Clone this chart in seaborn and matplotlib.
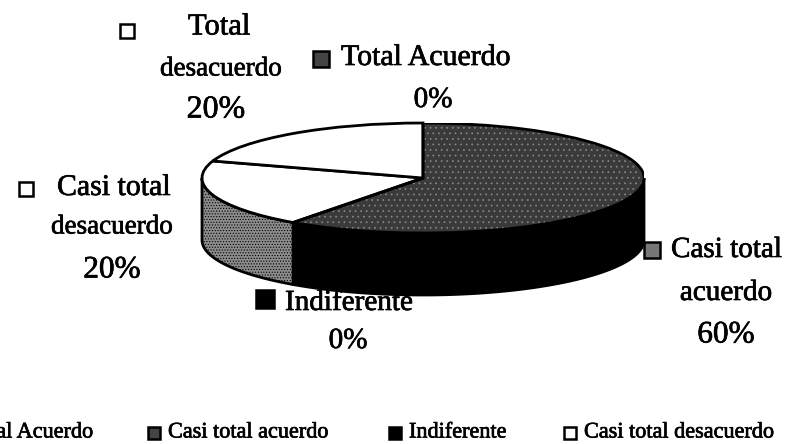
import matplotlib
matplotlib.use("Agg")
import matplotlib.pyplot as plt
import matplotlib.patheffects as pe
import numpy as np
import seaborn as sns
from matplotlib.patches import Polygon, Wedge

sns.set_theme(style="white")
plt.rcParams['font.family'] = ['Liberation Serif', 'DejaVu Serif']
plt.rcParams['hatch.linewidth'] = 0.5
plt.rcParams['text.color'] = 'black'

categories = ["Total Acuerdo", "Casi total acuerdo", "Indiferente", "Casi total desacuerdo", "Total desacuerdo"]
values = [0, 60, 0, 20, 20]
top_colors = ["#444444", "#3a3a3a", "#000000", "#ffffff", "#ffffff"]
side_colors = ["#222222", "#000000", "#000000", "#8c8c8c", "#ffffff"]

W, H = 788, 444
fig = plt.figure(figsize=(W / 100, H / 100), dpi=100, facecolor="white")
ax = fig.add_axes([202 / W, 1 - 233 / H, 442 / W, 110 / H])
ax.set_axis_off()

depth = 62 / 55
wedges, _ = ax.pie(values, startangle=90, counterclock=False, radius=1, colors=top_colors,
                   wedgeprops=dict(edgecolor="black", linewidth=2))
ax.set_aspect("auto")
ax.set_xlim(-1, 1)
ax.set_ylim(-1, 1)

for w, side in zip(wedges, side_colors):
    a0, a1 = sorted((w.theta1, w.theta2))
    if a1 - a0 <= 0:
        continue
    ang = np.radians(np.linspace(a0, a1, 200))
    ang = ang[np.sin(ang) <= 0]
    if len(ang) < 2:
        continue
    xs, ys = np.cos(ang), np.sin(ang)
    pts = np.r_[np.c_[xs, ys], np.c_[xs[::-1], ys[::-1] - depth]]
    ax.add_patch(Polygon(pts, closed=True, facecolor=side, edgecolor="black", linewidth=2,
                         hatch="......" if side == "#8c8c8c" else None, zorder=0.5, clip_on=False))

for w, col in zip(wedges, top_colors):
    w.set_zorder(2)
    if col == "#3a3a3a":
        w.set_hatch("...")
        w.set_edgecolor("#8a8a8a")
        w.set_linewidth(0)
        ax.add_patch(Wedge(w.center, w.r, w.theta1, w.theta2, fill=False, edgecolor="black",
                           linewidth=2, zorder=3))

STROKE = [pe.withStroke(linewidth=0.5, foreground="black")]

def px(x, y):
    return x / W, 1 - y / H

def square(x, y, color, s, z=3):
    fig.add_artist(plt.Line2D([x / W], [1 - y / H], marker="s", markersize=s, markerfacecolor=color,
                              markeredgecolor="black", markeredgewidth=1.8, transform=fig.transFigure,
                              zorder=z))

def label(x, y, s, size, ha="left", z=3):
    fig.text(*px(x, y), s, ha=ha, va="center", fontsize=size, color="black", zorder=z,
             path_effects=STROKE)

square(127, 31, "white", 10)
label(188, 27, "Total", 22)
label(221, 69, "desacuerdo", 19.5, "center")
label(216, 110, "20%", 23, "center")
square(321, 59, "#444444", 12)
label(341, 58, "Total Acuerdo", 21.5)
label(433, 100, "0%", 21, "center")
square(26, 189, "white", 10)
label(57, 188, "Casi total", 21.5)
label(112, 227, "desacuerdo", 19.5, "center")
label(112, 270, "20%", 22.5, "center")
square(652, 250, "#777777", 12)
label(671, 250, "Casi total", 21)
label(726, 293, "acuerdo", 21, "center")
label(726, 335, "60%", 22.5, "center")
square(265, 299, "black", 13, z=-1)
label(285, 303, "Indiferente", 21, z=-1)
label(348, 341, "0%", 21, "center")

leg_x = [-47, 154, 395, 570]
for x, cat, col in zip(leg_x, categories[:4], ["#444444", "#444444", "black", "white"]):
    square(x, 433, col, 8)
    label(x + 14, 433, cat, 16)

fig.savefig("out.png", dpi=100)
